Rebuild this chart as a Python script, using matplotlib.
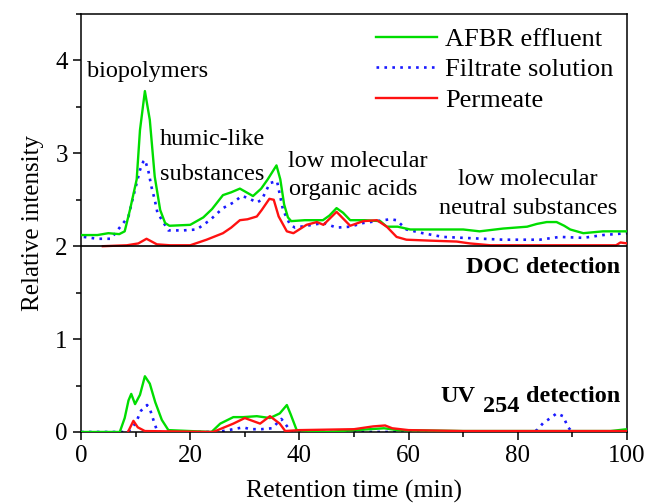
import matplotlib
matplotlib.use("Agg")
import matplotlib.pyplot as plt
import numpy as np
from matplotlib.ticker import MultipleLocator

plt.rcParams['font.family'] = ['Liberation Serif', 'DejaVu Serif']

# DOC chromatograms (signal above the DOC baseline, drawn shifted by DOC_OFFSET)
DOC_OFFSET = 2.0

doc_afbr_t = [0, 3, 5, 7, 8, 9, 10.2, 10.8, 11.7, 12.6, 13.5, 14.5, 15.4, 16.2, 20, 22.4, 24, 26,
              27.5, 29.1, 30.3, 31.5, 33, 34.2, 35.8, 36.5, 37.2, 37.9, 38.5, 41, 44.3, 45.5, 46.8,
              48, 49.3, 52, 54.8, 56, 58, 60.3, 65, 70, 73, 77.3, 81.7, 83.5, 85.3, 87.1, 88.5,
              89.6, 92, 95.6, 100]
doc_afbr_v = [0.12, 0.12, 0.14, 0.13, 0.16, 0.40, 0.72, 1.25, 1.67, 1.36, 0.75, 0.39, 0.25, 0.22,
              0.23, 0.31, 0.40, 0.55, 0.58, 0.62, 0.58, 0.54, 0.62, 0.72, 0.87, 0.72, 0.45, 0.31,
              0.27, 0.28, 0.28, 0.33, 0.41, 0.36, 0.28, 0.28, 0.27, 0.21, 0.21, 0.18, 0.18, 0.18,
              0.16, 0.19, 0.21, 0.24, 0.26, 0.26, 0.22, 0.18, 0.14, 0.16, 0.16]

doc_filt_t = [0.5, 3, 5.5, 6.8, 8.7, 9.3, 10.2, 10.8, 11.4, 11.7, 12.3, 12.9, 13.5, 14, 16, 18.7,
              21.2, 23.6, 26, 27.9, 29.4, 30.6, 32.2, 33.1, 34.6, 35.9, 37, 38.3, 39.2, 41.3, 44.4,
              46.8, 49.3, 51.7, 54.2, 56.6, 57.8, 59.6, 62.6, 66.3, 70, 77.3, 84, 87.7, 92, 95.6, 100]
doc_filt_v = [0.10, 0.08, 0.08, 0.18, 0.32, 0.47, 0.68, 0.82, 0.91, 0.93, 0.82, 0.64, 0.50, 0.36,
              0.17, 0.17, 0.18, 0.28, 0.41, 0.47, 0.54, 0.52, 0.47, 0.50, 0.68, 0.70, 0.39, 0.23,
              0.20, 0.22, 0.25, 0.20, 0.21, 0.25, 0.27, 0.29, 0.28, 0.18, 0.14, 0.10, 0.09, 0.07,
              0.07, 0.10, 0.09, 0.12, 0.14]

doc_perm_t = [4, 8.4, 10.5, 12, 13.9, 16.3, 20, 23, 26, 27.5, 29.1, 30.5, 32.2, 33.1, 34.5, 35.3,
              36.2, 37.7, 38.9, 41.3, 43.2, 44.4, 46.8, 49.3, 51.7, 54.2, 56, 57.8, 59.6, 63.9,
              68.8, 71.2, 75, 98, 98.8, 100]
doc_perm_v = [0.0, 0.01, 0.03, 0.08, 0.02, 0.01, 0.01, 0.07, 0.14, 0.20, 0.28, 0.29, 0.32, 0.39,
              0.51, 0.50, 0.32, 0.16, 0.14, 0.23, 0.26, 0.23, 0.37, 0.22, 0.27, 0.28, 0.21, 0.10,
              0.07, 0.06, 0.05, 0.03, 0.01, 0.01, 0.04, 0.03]

# UV254 chromatograms
uv_afbr_t = [0, 7.1, 8.0, 8.7, 9.2, 9.9, 10.8, 11.7, 12.6, 13.6, 14.8, 16, 23.9, 25.5, 27.9, 29.7,
             32.2, 34.6, 36.4, 37.7, 38.4, 39.5, 45, 50, 53, 55.5, 58, 70, 97, 100]
uv_afbr_v = [0, 0, 0.15, 0.34, 0.41, 0.30, 0.40, 0.60, 0.52, 0.32, 0.13, 0.02, 0.0, 0.09, 0.16,
             0.16, 0.17, 0.15, 0.20, 0.29, 0.19, 0.02, 0.0, 0.02, 0.03, 0.04, 0.02, 0.01, 0.01, 0.03]

uv_filt_t = [0, 8.5, 9.5, 10.2, 11, 12.1, 12.6, 13.2, 14, 25, 27, 29.7, 31, 33, 35, 36, 36.7,
             37.5, 38.5, 82.5, 83.5, 84.7, 86, 87.1, 88.3, 89.2, 90, 100]
uv_filt_v = [0, 0, 0.05, 0.12, 0.23, 0.29, 0.25, 0.14, 0.0, 0, 0.02, 0.05, 0.03, 0.03, 0.04, 0.10,
             0.14, 0.08, 0.0, 0, 0.02, 0.10, 0.15, 0.20, 0.17, 0.05, 0.0, 0]

uv_perm_t = [8.6, 9.6, 10.4, 11.7, 24.2, 27.9, 30, 32.8, 34.6, 36.4, 37.4, 40, 50, 53.5, 55.7, 57,
             60, 70, 100]
uv_perm_v = [0, 0.12, 0.05, 0.01, 0.0, 0.09, 0.15, 0.09, 0.17, 0.09, 0.01, 0.02, 0.03, 0.06, 0.07,
             0.04, 0.02, 0.01, 0.01]

series_labels = ['AFBR effluent', 'Filtrate solution', 'Permeate']
GREEN = '#00dd00'
BLUE = '#1a1aff'
RED = '#ff1111'

fig = plt.figure(figsize=(6.46, 5.03), dpi=100)
ax = fig.add_axes([0.1254, 0.1412, 0.8452, 0.8310])

lw = 1.7
dot_lw = 1.9
dot_style = (0, (1, 2.0))

# filtrate (dotted) drawn underneath
ax.plot(doc_filt_t, np.array(doc_filt_v) + DOC_OFFSET, color=BLUE, lw=dot_lw, ls=dot_style, zorder=2)
ax.plot(uv_filt_t, uv_filt_v, color=BLUE, lw=dot_lw, ls=dot_style, zorder=2)
h1, = ax.plot(doc_afbr_t, np.array(doc_afbr_v) + DOC_OFFSET, color=GREEN, lw=lw, zorder=3)
ax.plot(uv_afbr_t, uv_afbr_v, color=GREEN, lw=lw, zorder=3)
h3, = ax.plot(doc_perm_t, np.array(doc_perm_v) + DOC_OFFSET, color=RED, lw=lw, zorder=4)
ax.plot(uv_perm_t, uv_perm_v, color=RED, lw=lw, zorder=4)
h2, = ax.plot([], [], color=BLUE, lw=dot_lw, ls=dot_style)

# separator between the two detectors
ax.axhline(DOC_OFFSET, color='black', lw=1.2, zorder=5)

ax.set_xlim(0, 100)
ax.set_ylim(0, 4.5)
ax.xaxis.set_major_locator(MultipleLocator(20))
ax.xaxis.set_minor_locator(MultipleLocator(10))
ax.yaxis.set_major_locator(MultipleLocator(1))
ax.yaxis.set_minor_locator(MultipleLocator(0.5))
ax.tick_params(which='both', direction='out', top=False, right=False, width=1.1, labelsize=18)
ax.tick_params(which='major', length=6)
ax.tick_params(which='minor', length=3.5)
for sp in ax.spines.values():
    sp.set_linewidth(1.1)

ax.set_xlabel('Retention time (min)', fontsize=18.5, labelpad=9)
ax.set_ylabel('Relative intensity', fontsize=18, labelpad=8)

leg = ax.legend([h1, h2, h3], series_labels, loc='upper right', bbox_to_anchor=(0.975, 0.968),
                frameon=False, fontsize=19, handlelength=2.3, handletextpad=0.3,
                labelspacing=0.27, borderpad=0, borderaxespad=0)

# peak group annotations
fs = 17.5
ax.text(1.1, 3.88, 'biopolymers', fontsize=fs, ha='left', va='center')
ax.text(24.0, 3.15, 'humic-like', fontsize=fs, ha='center', va='center')
ax.text(24.0, 2.77, 'substances', fontsize=fs, ha='center', va='center')
ax.text(37.9, 2.91, 'low molecular', fontsize=fs, ha='left', va='center')
ax.text(38.1, 2.61, 'organic acids', fontsize=fs, ha='left', va='center')
ax.text(81.8, 2.72, 'low molecular', fontsize=fs, ha='center', va='center')
ax.text(81.8, 2.41, 'neutral substances', fontsize=fs, ha='center', va='center')

# detector labels
bfs = 17.5
ax.text(98.8, 1.77, 'DOC detection', fontsize=bfs, fontweight='bold', ha='right', va='center')
det = ax.text(98.8, 0.385, 'detection', fontsize=bfs, fontweight='bold', ha='right', va='center')
sub = ax.annotate('254', xy=(0, 0.5), xycoords=det, xytext=(-5, -7.5), textcoords='offset points',
                  fontsize=bfs, fontweight='bold', ha='right', va='center')
ax.annotate('UV', xy=(0, 0.5), xycoords=(sub, det), xytext=(-5.5, 0), textcoords='offset points',
            fontsize=bfs, fontweight='bold', ha='right', va='center')

fig.savefig('out.png', dpi=100)
